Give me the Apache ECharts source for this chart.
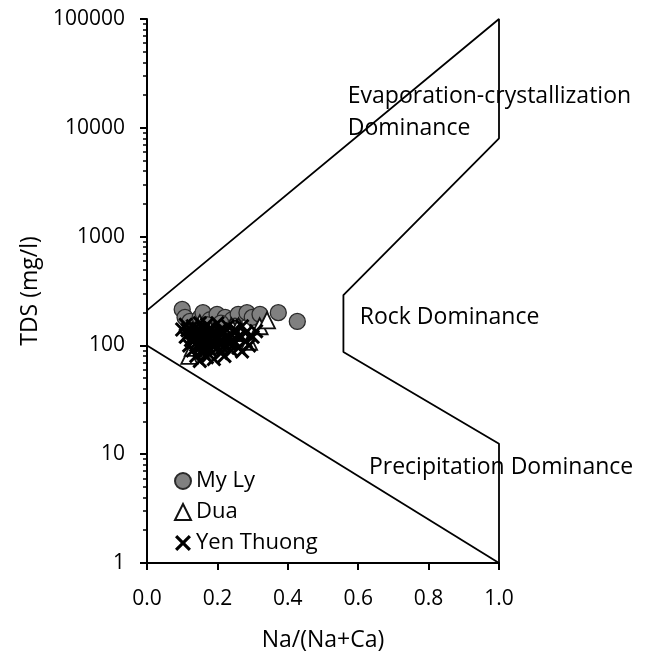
<!DOCTYPE html>
<html>
<head>
<meta charset="utf-8">
<script src="https://cdn.jsdelivr.net/npm/echarts@6/dist/echarts.min.js"></script>
<style>html,body{margin:0;padding:0;background:#fff;}#chart{width:649px;height:657px;}</style>
</head>
<body>
<div id="chart"></div>
<script>
// ---- data ----
const xTickValues = [0, 0.2, 0.4, 0.6, 0.8, 1.0];
const yTickValues = [1, 10, 100, 1000, 10000, 100000];
const minorTickValues = [2,3,4,5,6,7,8,9,20,30,40,50,60,70,80,90,200,300,400,500,600,700,800,900,2000,3000,4000,5000,6000,7000,8000,9000,20000,30000,40000,50000,60000,70000,80000,90000];

const myLyData = [
  [0.10,214],[0.108,181],[0.122,166],[0.137,140],[0.151,181],[0.159,200],[0.179,172],
  [0.193,146],[0.199,193],[0.222,181],[0.242,172],[0.259,193],[0.284,200],[0.299,181],
  [0.321,193],[0.373,200],[0.427,166],[0.17,155],[0.21,160],[0.25,150]
];
const duaData = [
  [0.12,80],[0.13,95],[0.14,130],[0.15,160],[0.16,110],[0.18,140],[0.20,100],
  [0.22,120],[0.24,150],[0.26,150],[0.27,130],[0.29,108],[0.32,150],[0.341,170]
];
const yenThuongData = [
  [0.10,140],[0.11,120],[0.11,155],[0.12,100],[0.12,130],[0.13,90],[0.13,115],[0.13,150],
  [0.14,80],[0.14,105],[0.14,135],[0.15,72],[0.15,95],[0.15,120],[0.15,160],[0.16,85],
  [0.16,110],[0.16,140],[0.17,78],[0.17,100],[0.17,125],[0.17,155],[0.18,90],[0.18,115],
  [0.18,145],[0.19,75],[0.19,105],[0.19,130],[0.20,95],[0.20,120],[0.20,160],[0.21,85],
  [0.21,110],[0.21,140],[0.22,80],[0.22,100],[0.22,130],[0.23,115],[0.23,150],[0.24,90],
  [0.24,125],[0.25,105],[0.25,140],[0.26,95],[0.26,120],[0.27,88],[0.27,150],[0.28,110],
  [0.28,130],[0.29,100],[0.30,120],[0.31,135],
  [0.125,112],[0.135,125],[0.145,98],[0.145,142],[0.155,108],[0.155,132],[0.165,92],
  [0.165,120],[0.175,112],[0.175,138],[0.185,100],[0.185,128],[0.195,118],[0.205,108],
  [0.205,135],[0.215,96],[0.225,118],[0.235,104],[0.245,112],[0.115,138]
];
const upperBoundary = [[0,210],[1,100000],[1,8000],[0.558,290],[0.558,87],[1,12.5],[1,1]];
const lowerBoundary = [[0,100],[1,1]];
const annotations = [
  {value:[0.569,13800], text:'Evaporation-crystallization\nDominance'},
  {value:[0.603,181], text:'Rock Dominance'},
  {value:[0.629,7.6], text:'Precipitation Dominance'}
];

// ---- chart ----
const FONT = '"Open Sans"';
const xPath = 'path://M0,2.8 L2.8,0 L10,7.2 L17.2,0 L20,2.8 L12.8,10 L20,17.2 L17.2,20 L10,12.8 L2.8,20 L0,17.2 L7.2,10 Z';
const chart = echarts.init(document.getElementById('chart'));
const option = {
  animation: false,
  backgroundColor: '#fff',
  textStyle: {fontFamily: FONT, color: '#000'},
  grid: {left: 147, right: 150, top: 19, bottom: 93, containLabel: false},
  legend: {
    orient: 'vertical', left: 169, top: 465,
    itemWidth: 16, itemHeight: 16, itemGap: 9, itemTextGap: 7,
    data: ['My Ly', 'Dua', 'Yen Thuong'],
    textStyle: {fontFamily: FONT, fontSize: 22, color: '#000'}
  },
  xAxis: {
    type: 'value', min: 0, max: 1, interval: 0.2,
    name: 'Na/(Na+Ca)', nameLocation: 'middle', nameGap: 66,
    nameTextStyle: {fontFamily: FONT, fontSize: 23, color: '#000'},
    axisLine: {show: true, lineStyle: {color: '#000', width: 2}},
    axisTick: {show: true, length: 7, lineStyle: {color: '#000', width: 2}},
    axisLabel: {margin: 26, fontFamily: FONT, fontSize: 21, color: '#000', formatter: v => v.toFixed(1)},
    splitLine: {show: false}
  },
  yAxis: [{
    type: 'log', logBase: 10, min: 1, max: 100000,
    name: 'TDS (mg/l)', nameLocation: 'middle', nameGap: 104,
    nameTextStyle: {fontFamily: FONT, fontSize: 23, color: '#000'},
    axisLine: {show: true, onZero: false, lineStyle: {color: '#000', width: 2}},
    axisTick: {show: true, length: 7, lineStyle: {color: '#000', width: 2}},
    axisLabel: {margin: 22, fontFamily: FONT, fontSize: 21, color: '#000', formatter: v => String(Math.round(v))},
    splitLine: {show: false}
  }, {
    type: 'log', logBase: 10, min: 1, max: 100000, position: 'left',
    axisLine: {show: false},
    axisTick: {show: true, length: 4, customValues: minorTickValues, lineStyle: {color: '#000', width: 1.5}},
    axisLabel: {show: false},
    splitLine: {show: false}
  }],
  series: [
    {
      name: 'upper', type: 'line', data: upperBoundary, symbol: 'none', silent: true,
      lineStyle: {color: '#000', width: 1.8}, z: 1
    },
    {
      name: 'lower', type: 'line', data: lowerBoundary, symbol: 'none', silent: true,
      lineStyle: {color: '#000', width: 1.8}, z: 1
    },
    {
      name: 'My Ly', type: 'scatter', data: myLyData, symbol: 'circle', symbolSize: 16,
      itemStyle: {color: '#808080', borderColor: '#2a2a2a', borderWidth: 1.3, opacity: 1}
    },
    {
      name: 'Dua', type: 'scatter', data: duaData, symbol: 'triangle', symbolSize: 16,
      itemStyle: {color: '#fff', borderColor: '#111', borderWidth: 1.8, opacity: 1}
    },
    {
      name: 'Yen Thuong', type: 'scatter', data: yenThuongData, symbol: xPath, symbolSize: 15,
      itemStyle: {color: '#000', opacity: 1}
    },
    {
      name: 'labels', type: 'scatter', silent: true, symbolSize: 1,
      data: annotations.map(a => ({value: a.value, text: a.text})),
      itemStyle: {color: '#fff', opacity: 1},
      label: {
        show: true, position: 'right', distance: 0, align: 'left', verticalAlign: 'middle',
        fontFamily: FONT, fontSize: 23, color: '#000', opacity: 1, textBorderWidth: 0,
        lineHeight: 32,
        formatter: p => p.data.text
      },
      z: 5
    }
  ]
};
chart.setOption(option);
</script>
</body>
</html>
